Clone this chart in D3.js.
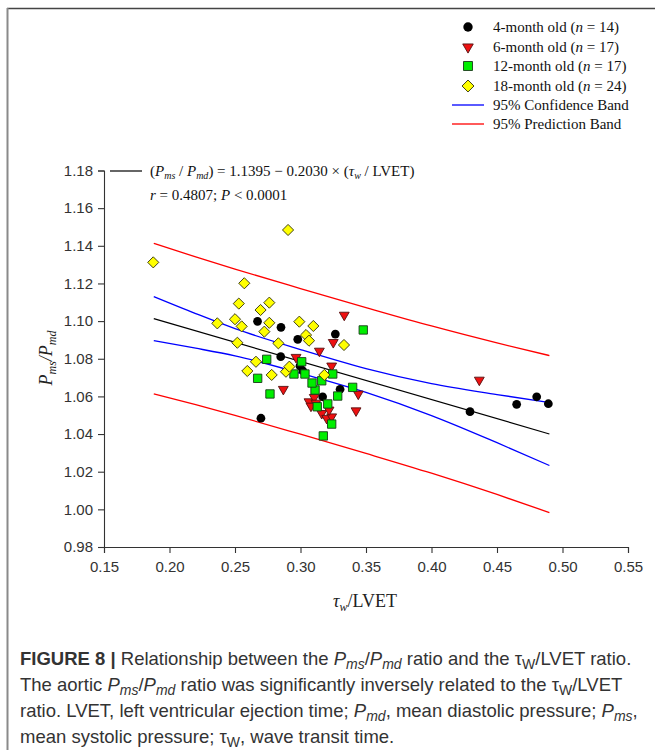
<!DOCTYPE html>
<html><head><meta charset="utf-8">
<script src="https://cdn.jsdelivr.net/npm/d3@7"></script>
<style>body{margin:0;background:#fff}</style>
</head><body><svg id="c" width="655" height="750"></svg>
<script>
// ---------- data ----------
const groupNames = ["4-month old", "6-month old", "12-month old", "18-month old"];
const groupN = [14, 17, 17, 24];

const m4_tau   = [0.2672,0.2851,0.2979,0.3266,0.2849,0.2996,0.3302,0.3169,0.2698,0.4294,0.4650,0.4803,0.4892,0.3019];
const m4_ratio = [1.0999,1.0967,1.0903,1.0931,1.0811,1.0762,1.0638,1.0598,1.0484,1.0519,1.0558,1.0598,1.0561,1.0735];

const m6_tau   = [0.3334,0.3250,0.3144,0.2966,0.3238,0.2869,0.3441,0.3065,0.3105,0.3080,0.3162,0.3200,0.3238,0.3424,0.4365,0.3118,0.3218];
const m6_ratio = [1.1032,1.0887,1.0841,1.0808,1.0762,1.0638,1.0613,1.0572,1.0595,1.0549,1.0510,1.0484,1.0492,1.0524,1.0687,1.0565,1.0528];

const m12_tau   = [0.3479,0.2742,0.3009,0.2950,0.3034,0.3246,0.2673,0.3162,0.3398,0.3111,0.2767,0.3284,0.3208,0.3128,0.3238,0.3174,0.3088];
const m12_ratio = [1.0953,1.0797,1.0784,1.0719,1.0719,1.0719,1.0696,1.0683,1.0648,1.0634,1.0613,1.0602,1.0560,1.0545,1.0453,1.0390,1.0671];

const m18_tau   = [0.1876,0.2571,0.2529,0.2365,0.2500,0.2551,0.2695,0.2518,0.2762,0.2762,0.2724,0.2991,0.3098,0.3042,0.3065,0.2831,0.3332,0.2660,0.2594,0.2780,0.2889,0.2915,0.3182,0.2905];
const m18_ratio = [1.1312,1.1201,1.1093,1.0988,1.1010,1.0972,1.1059,1.0885,1.1098,1.0991,1.0944,1.0997,1.0974,1.0926,1.0896,1.0882,1.0873,1.0784,1.0735,1.0714,1.0731,1.0758,1.0714,1.1484];

// regression line (from the printed equation) and its range
const regIntercept = 1.1395, regSlope = -0.2030;
const regTauRange = [0.188, 0.49];

// bands
const bandTau  = [0.188, 0.22, 0.25, 0.30, 0.35, 0.40, 0.45, 0.49];
const ciUpper  = [1.1130, 1.1040, 1.0960, 1.0849, 1.0748, 1.0668, 1.0610, 1.0567];
const ciLower  = [1.0896, 1.0856, 1.0815, 1.0723, 1.0621, 1.0498, 1.0354, 1.0233];
const piUpper  = [1.1413, 1.1341, 1.1276, 1.1173, 1.1072, 1.0974, 1.0884, 1.0817];
const piLower  = [1.0614, 1.0556, 1.0499, 1.0399, 1.0297, 1.0192, 1.0079, 0.9983];

const xTicks = [0.15,0.20,0.25,0.30,0.35,0.40,0.45,0.50,0.55];
const yTicks = [0.98,1.00,1.02,1.04,1.06,1.08,1.10,1.12,1.14,1.16,1.18];

// ---------- drawing ----------
const svg = d3.select("#c");
const SANS = "'Liberation Sans', Arial, sans-serif";
const SERIF = "'Liberation Serif', 'Times New Roman', serif";

// frame
svg.append("line").attr("x1",7).attr("x2",655).attr("y1",8.5).attr("y2",8.5).attr("stroke","#444").attr("stroke-width",1.6);
svg.append("line").attr("x1",7.5).attr("x2",7.5).attr("y1",8).attr("y2",750).attr("stroke","#8a8a8a").attr("stroke-width",2);

const x = d3.scaleLinear().domain([0.15,0.55]).range([104,628]);
const y = d3.scaleLinear().domain([0.98,1.18]).range([547,170.5]);

// rich text helper
function rich(textSel, parts, subSize, subDy) {
  let shift = 0;
  parts.forEach(p => {
    const t = textSel.append("tspan").text(p.t);
    if (p.i) t.attr("font-style","italic");
    if (p.b) t.attr("font-weight","bold");
    if (p.sub) {
      t.attr("font-size", subSize).attr("dy", subDy - shift); shift = subDy;
    } else if (shift !== 0) {
      t.attr("dy", -shift); shift = 0;
    }
  });
}

// axes
const gx = svg.append("g").attr("transform","translate(0,547)")
  .call(d3.axisBottom(x).tickValues(xTicks).tickFormat(d3.format(".2f")).tickSizeOuter(0).tickSize(6).tickPadding(8));
const gy = svg.append("g").attr("transform","translate(104,0)")
  .call(d3.axisLeft(y).tickValues(yTicks).tickFormat(d3.format(".2f")).tickSizeOuter(0).tickSize(6).tickPadding(5));
[gx, gy].forEach(g => {
  g.selectAll("path,line").attr("stroke","#333").attr("stroke-width",1.1);
  g.selectAll("text").attr("font-family",SANS).attr("font-size",15).attr("fill","#333");
});

// axis titles
const xt = svg.append("text").attr("x",365).attr("y",607).attr("text-anchor","middle")
  .attr("font-family",SERIF).attr("font-size",18).attr("fill","#222");
rich(xt, [{t:"τ",i:true},{t:"w",i:true,sub:true},{t:"/LVET"}], 12, 4);

const yt = svg.append("text").attr("transform","translate(52,358) rotate(-90)").attr("text-anchor","middle")
  .attr("font-family",SERIF).attr("font-size",18).attr("fill","#222");
rich(yt, [{t:"P",i:true},{t:"ms",i:true,sub:true},{t:"/P",i:true},{t:"md",i:true,sub:true}], 12, 4);

// bands
const bandLine = vals => d3.line().curve(d3.curveMonotoneX)
  .x((d,i)=>x(bandTau[i])).y(d=>y(d))(vals);
[[piUpper,"#ff0000"],[piLower,"#ff0000"],[ciUpper,"#0000ff"],[ciLower,"#0000ff"]].forEach(([v,c]) => {
  svg.append("path").attr("d", bandLine(v)).attr("fill","none").attr("stroke",c).attr("stroke-width",1.3);
});
// regression
svg.append("line")
  .attr("x1", x(regTauRange[0])).attr("y1", y(regIntercept + regSlope*regTauRange[0]))
  .attr("x2", x(regTauRange[1])).attr("y2", y(regIntercept + regSlope*regTauRange[1]))
  .attr("stroke","#000").attr("stroke-width",1.2);

// points
const styles = [
  {type:d3.symbolCircle, size:60, fill:"#000", stroke:"#000", rot:0},
  {type:d3.symbolTriangle, size:42, fill:"#ee1111", stroke:"#551111", rot:180},
  {type:d3.symbolSquare, size:70, fill:"#00ee00", stroke:"#1a3a1a", rot:0},
  {type:d3.symbolSquare, size:62, fill:"#ffff00", stroke:"#3a3a10", rot:45}
];
const series = [[m4_tau,m4_ratio],[m6_tau,m6_ratio],[m12_tau,m12_ratio],[m18_tau,m18_ratio]];
series.forEach(([tx,ry],gi) => {
  const st = styles[gi];
  const path = d3.symbol().type(st.type).size(st.size)();
  svg.append("g").selectAll("path").data(tx.map((t,i)=>[t,ry[i]])).join("path")
    .attr("d", path)
    .attr("transform", d=>`translate(${x(d[0])},${y(d[1])}) rotate(${st.rot})`)
    .attr("fill", st.fill).attr("stroke", st.stroke).attr("stroke-width", gi===0?0:0.9);
});

// equation legend
svg.append("line").attr("x1",110).attr("x2",142).attr("y1",171).attr("y2",171).attr("stroke","#000").attr("stroke-width",1.2);
const eq1 = svg.append("text").attr("x",150).attr("y",176).attr("font-family",SERIF).attr("font-size",15).attr("fill","#111");
rich(eq1, [{t:"("},{t:"P",i:true},{t:"ms",i:true,sub:true},{t:" / "},{t:"P",i:true},{t:"md",i:true,sub:true},
  {t:") = 1.1395 − 0.2030 × ("},{t:"τ",i:true},{t:"w",i:true,sub:true},{t:" / LVET)"}], 10, 3);
const eq2 = svg.append("text").attr("x",150).attr("y",200).attr("font-family",SERIF).attr("font-size",15).attr("fill","#111");
rich(eq2, [{t:"r",i:true},{t:" = 0.4807; "},{t:"P",i:true},{t:" < 0.0001"}], 10, 3);

// legend (top right)
const legY = [27, 47, 66, 86, 105, 124];
groupNames.forEach((g,gi) => {
  const st = styles[gi];
  svg.append("path").attr("d", d3.symbol().type(st.type).size(st.size*1.15)())
    .attr("transform",`translate(468,${legY[gi]}) rotate(${st.rot})`)
    .attr("fill",st.fill).attr("stroke",st.stroke).attr("stroke-width",gi===0?0:0.9);
  const t = svg.append("text").attr("x",493).attr("y",legY[gi]+5).attr("font-family",SERIF).attr("font-size",15).attr("fill","#111");
  rich(t, [{t:g+" ("},{t:"n",i:true},{t:" = "+groupN[gi]+")"}], 10, 3);
});
[["95% Confidence Band","#0000ff"],["95% Prediction Band","#ff0000"]].forEach(([lab,c],k) => {
  const yy = legY[4+k];
  svg.append("line").attr("x1",452).attr("x2",484).attr("y1",yy).attr("y2",yy).attr("stroke",c).attr("stroke-width",1.3);
  svg.append("text").attr("x",493).attr("y",yy+5).attr("font-family",SERIF).attr("font-size",15).attr("fill","#111").text(lab);
});

// caption
const capLines = [
  [{t:"FIGURE 8 |",b:true},{t:" Relationship between the "},{t:"P",i:true},{t:"ms",i:true,sub:true},{t:"/"},{t:"P",i:true},{t:"md",i:true,sub:true},{t:" ratio and the τ"},{t:"W",sub:true},{t:"/LVET ratio."}],
  [{t:"The aortic "},{t:"P",i:true},{t:"ms",i:true,sub:true},{t:"/"},{t:"P",i:true},{t:"md",i:true,sub:true},{t:" ratio was significantly inversely related to the τ"},{t:"W",sub:true},{t:"/LVET"}],
  [{t:"ratio. LVET, left ventricular ejection time; "},{t:"P",i:true},{t:"md",i:true,sub:true},{t:", mean diastolic pressure; "},{t:"P",i:true},{t:"ms",i:true,sub:true},{t:","}],
  [{t:"mean systolic pressure; τ"},{t:"W",sub:true},{t:", wave transit time."}]
];
const capY = [665, 691, 717, 743];
capLines.forEach((parts,k) => {
  const t = svg.append("text").attr("x",20).attr("y",capY[k]).attr("font-family",SANS).attr("font-size",18.5).attr("fill","#333");
  rich(t, parts, 14, 4);
});
</script>
</body></html>
